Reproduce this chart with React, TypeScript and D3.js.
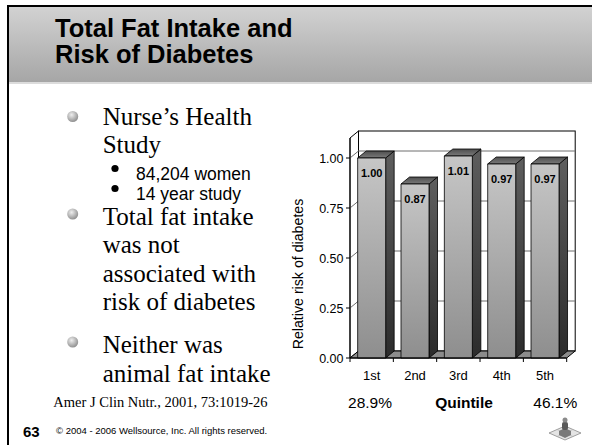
import React from 'react';
import * as d3 from 'd3';

const quintiles = ['1st', '2nd', '3rd', '4th', '5th'];
const relativeRisk = [1.0, 0.87, 1.01, 0.97, 0.97];
const yTicks = [0, 0.25, 0.5, 0.75, 1.0];
const titleLines = ['Total Fat Intake and', 'Risk of Diabetes'];
const subBullets = ['84,204 women', '14 year study'];

const W = 592;
const H = 445;
const DX = 8.5; // 3d depth offset
const DY = -7;

export default function App() {
  const x = d3.scaleBand<string>().domain(quintiles).range([350, 566.7]).paddingInner(0).paddingOuter(0);
  const y = d3.scaleLinear().domain([0, 1.1]).range([358, 138]);
  const barW = x.bandwidth() * 0.646;
  const x0 = 350;
  const x1 = 566.7;
  const yTop = y(1.1);
  const yBase = y(0);
  const fmt = d3.format('.2f');

  const serif = "'Liberation Serif', 'Times New Roman', serif";
  const sans = "'Liberation Sans', Arial, sans-serif";

  return (
    <svg width={W} height={H} style={{ position: 'absolute', left: 0, top: 0, background: '#fff' }}>
      <defs>
        <linearGradient id="band" x1="0" y1="0" x2="0" y2="1">
          <stop offset="0" stopColor="#d2d2d2" />
          <stop offset="1" stopColor="#a6a6a6" />
        </linearGradient>
        <linearGradient id="front" x1="0" y1="0" x2="0" y2="1">
          <stop offset="0" stopColor="#c6c6c6" />
          <stop offset="1" stopColor="#8e8e8e" />
        </linearGradient>
        <linearGradient id="side" x1="0" y1="0" x2="0" y2="1">
          <stop offset="0" stopColor="#5e5e5e" />
          <stop offset="1" stopColor="#2c2c2c" />
        </linearGradient>
        <linearGradient id="top" x1="0" y1="1" x2="0" y2="0">
          <stop offset="0" stopColor="#7a7a7a" />
          <stop offset="1" stopColor="#4e4e4e" />
        </linearGradient>
        <radialGradient id="ball" cx="0.4" cy="0.35" r="0.7">
          <stop offset="0" stopColor="#eeeeee" />
          <stop offset="1" stopColor="#8a8a8a" />
        </radialGradient>
      </defs>

      {/* slide frame and title band */}
      <rect x={9} y={7} width={W - 9} height={75} fill="url(#band)" />
      <rect x={9} y={82} width={W - 9} height={2} fill="#dcdcdc" />
      <rect x={7} y={5} width={W - 7} height={2} fill="#000" />
      <rect x={7} y={5} width={2} height={H - 5} fill="#000" />
      {titleLines.map((t, i) => (
        <text key={t} x={55} y={36.7 + i * 26.6} fontFamily={sans} fontWeight="bold" fontSize={25.5} fill="#000">
          {t}
        </text>
      ))}

      {/* bullets */}
      <g fontFamily={serif} fontSize={25} fill="#000">
        <circle cx={72.7} cy={116.5} r={5.5} fill="url(#ball)" />
        <text x={102.7} y={125}>Nurse’s Health</text>
        <text x={102.7} y={153.3}>Study</text>
        <circle cx={72.7} cy={214} r={5.5} fill="url(#ball)" />
        <text x={102.7} y={225}>Total fat intake</text>
        <text x={102.7} y={253.3}>was not</text>
        <text x={102.7} y={281.7}>associated with</text>
        <text x={102.7} y={310}>risk of diabetes</text>
        <circle cx={72.7} cy={342} r={5.5} fill="url(#ball)" />
        <text x={102.7} y={353.3}>Neither was</text>
        <text x={102.7} y={381.7}>animal fat intake</text>
      </g>
      {subBullets.map((t, i) => (
        <g key={t}>
          <circle cx={115} cy={168.5 + i * 20} r={3.6} fill="#000" />
          <text x={136} y={180 + i * 20} fontFamily={sans} fontSize={17.5}>{t}</text>
        </g>
      ))}
      <text x={53.3} y={406.7} fontFamily={serif} fontSize={14.5}>Amer J Clin Nutr., 2001, 73:1019-26</text>

      {/* chart walls */}
      <rect x={x0 + DX} y={yTop + DY} width={x1 - x0} height={yBase - yTop} fill="#fff" stroke="#000" strokeWidth={1} />
      <path
        d={`M${x0},${yBase}L${x0},${yTop}L${x0 + DX},${yTop + DY}L${x0 + DX},${yBase + DY}Z`}
        fill="#fff" stroke="#000" strokeWidth={1}
      />
      {yTicks.filter((t) => t > 0).map((t) => (
        <g key={t} stroke="#6e6e6e" strokeWidth={1}>
          <line x1={x0} y1={y(t)} x2={x0 + DX} y2={y(t) + DY} />
          <line x1={x0 + DX} y1={y(t) + DY} x2={x1 + DX} y2={y(t) + DY} />
        </g>
      ))}
      <path
        d={`M${x0},${yBase}L${x1},${yBase}L${x1 + DX},${yBase + DY}L${x0 + DX},${yBase + DY}Z`}
        fill="#8c8c8c" stroke="#000" strokeWidth={1}
      />

      {/* bars */}
      {relativeRisk.map((v, i) => {
        const bx = (x(quintiles[i]) as number) + (x.bandwidth() - barW) / 2;
        const by = y(v);
        return (
          <g key={quintiles[i]} stroke="#000" strokeWidth={0.8} strokeLinejoin="round">
            <path d={`M${bx + barW},${by}L${bx + barW + DX},${by + DY}L${bx + barW + DX},${yBase + DY}L${bx + barW},${yBase}Z`} fill="url(#side)" />
            <path d={`M${bx},${by}L${bx + DX},${by + DY}L${bx + barW + DX},${by + DY}L${bx + barW},${by}Z`} fill="url(#top)" />
            <rect x={bx} y={by} width={barW} height={yBase - by} fill="url(#front)" />
            <text x={bx + barW / 2} y={by + 19} textAnchor="middle" stroke="none" fill="#000" fontFamily={sans} fontWeight="bold" fontSize={11}>
              {fmt(v)}
            </text>
          </g>
        );
      })}

      {/* axes */}
      <line x1={x0} y1={yBase} x2={x0} y2={yTop} stroke="#000" />
      <line x1={x0} y1={yBase} x2={x1} y2={yBase} stroke="#000" />
      {yTicks.map((t) => (
        <g key={t}>
          <line x1={x0 - 4} y1={y(t)} x2={x0} y2={y(t)} stroke="#000" />
          <text x={343.5} y={y(t) + 4.5} textAnchor="end" fontFamily={sans} fontSize={12.5} fill="#000">
            {fmt(t)}
          </text>
        </g>
      ))}
      {quintiles.map((q) => (
        <g key={q}>
          <line x1={(x(q) as number) + x.bandwidth()} y1={yBase} x2={(x(q) as number) + x.bandwidth()} y2={yBase + 4} stroke="#000" />
          <text x={(x(q) as number) + x.bandwidth() / 2} y={380} textAnchor="middle" fontFamily={sans} fontSize={13} fill="#000">
            {q}
          </text>
        </g>
      ))}
      <line x1={x0} y1={yBase} x2={x0} y2={yBase + 4} stroke="#000" />
      <text transform={`translate(303,274) rotate(-90)`} textAnchor="middle" fontFamily={sans} fontSize={14.2} fill="#000">
        Relative risk of diabetes
      </text>
      <g fontFamily={sans} fontSize={15.5} fill="#000" textAnchor="middle">
        <text x={370} y={408}>28.9%</text>
        <text x={464} y={408} fontWeight="bold">Quintile</text>
        <text x={555.3} y={408}>46.1%</text>
      </g>

      {/* footer */}
      <text x={23} y={437} fontFamily={sans} fontWeight="bold" fontSize={15}>63</text>
      <text x={56} y={434} fontFamily={sans} fontSize={9.5}>© 2004 - 2006 Wellsource, Inc. All rights reserved.</text>
      <g transform="translate(565,433)">
        <path d="M-16,0L0,-7L16,0L0,7Z" fill="#e4e4e4" stroke="#8a8a8a" strokeWidth={0.8} />
        <path d="M-8,-3.5L8,3.5M-8,3.5L8,-3.5" stroke="#b0b0b0" strokeWidth={0.6} />
        <path d="M-6,-2L0,-5L6,-2L6,2L0,5L-6,2Z" fill="#7a7a7a" />
        <rect x={-3} y={-11} width={6} height={8} rx={2} fill="#5a5a5a" />
        <circle cx={0} cy={-13} r={2.5} fill="#8a8a8a" />
      </g>
    </svg>
  );
}
